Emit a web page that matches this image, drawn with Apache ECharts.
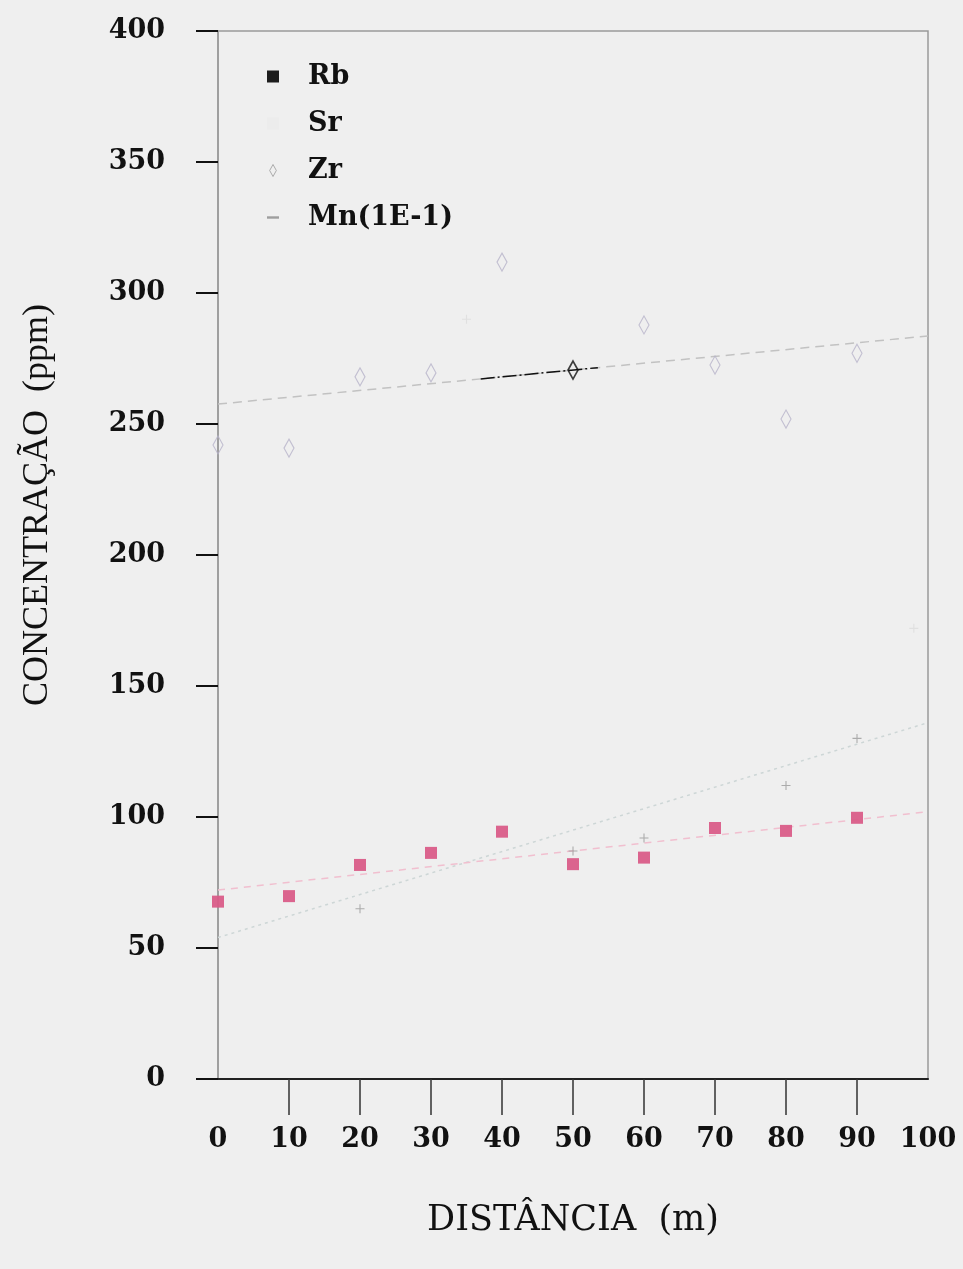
<!DOCTYPE html>
<html>
<head>
<meta charset="utf-8">
<title>Concentração vs distância</title>
<script src="https://cdn.jsdelivr.net/npm/echarts@6/dist/echarts.min.js"></script>
<style>
  html, body { margin: 0; padding: 0; background: #efefef; }
  #chart { width: 963px; height: 1269px; }
</style>
</head>
<body>
<div id="chart"></div>
<script>
// Sampling distances along the profile (m)
const distances = [0, 10, 20, 30, 40, 50, 60, 70, 80, 90];
// Rb and Zr concentrations (ppm) at each distance
const rbValues = [67.7, 69.8, 81.7, 86.3, 94.4, 82.0, 84.5, 95.8, 94.7, 99.7];
const zrValues = [242, 240.8, 268, 269.5, 311.8, 270.6, 287.8, 272.5, 251.9, 277];
// Mn (scaled by 1E-1) and Sr readings, [distance, ppm]
const mnPoints = [[20, 65], [50, 87], [60, 92], [80, 112], [90, 130]];
const srPoints = [[35, 290], [98, 172]];
// Linear trend lines: value at distance 0 and at distance 100
const fitEnds = [0, 100];
const rbFit = [72.1, 102];
const zrFit = [257.6, 283.6];
const mnFit = [54, 136];
// Highlighted part of the Zr trend
const zrHighlight = [37, 53.5];
// Axis ticks
const xTickValues = [10, 20, 30, 40, 50, 60, 70, 80, 90];

const serif = 'DejaVu Serif';

function lineData(ends) {
  return fitEnds.map((x, i) => [x, ends[i]]);
}
function pointOnLine(ends, x) {
  return [x, ends[0] + (ends[1] - ends[0]) * (x - fitEnds[0]) / (fitEnds[1] - fitEnds[0])];
}

const chart = echarts.init(document.getElementById('chart'), null, { renderer: 'canvas' });

const option = {
  backgroundColor: '#efefef',
  animation: false,
  grid: {
    left: 218, right: 35, top: 31, bottom: 190,
    show: true, borderColor: '#9a9a9a', borderWidth: 1.5, backgroundColor: 'transparent'
  },
  legend: {
    orient: 'vertical',
    left: 262, top: 56,
    itemWidth: 12, itemHeight: 12,
    itemGap: 16,
    selectedMode: false,
    textStyle: {
      fontFamily: serif, fontWeight: 'bold', fontSize: 27, color: '#111',
      padding: [0, 0, 0, 24], lineHeight: 31
    },
    data: [
      { name: 'Rb', icon: 'rect', itemStyle: { color: '#111' } },
      { name: 'Sr', icon: 'rect', itemStyle: { color: '#ebebeb' } },
      { name: 'Zr', icon: 'path://M5,0L10,9L5,18L0,9Z',
        itemStyle: { color: 'transparent', borderColor: '#9a9a9a', borderWidth: 1 } },
      { name: 'Mn(1E-1)', icon: 'path://M0,0h7v1.4h-7z', itemStyle: { color: '#8a8a8a' } }
    ]
  },
  xAxis: {
    type: 'value', min: 0, max: 100, interval: 10,
    name: 'DISTÂNCIA  (m)', nameLocation: 'middle', nameGap: 124,
    nameTextStyle: { fontFamily: serif, fontSize: 35, color: '#111', verticalAlign: 'top' },
    axisLine: { show: true, lineStyle: { color: '#222', width: 2 } },
    axisTick: { show: true, inside: false, length: 36, customValues: xTickValues,
      lineStyle: { color: '#333', width: 1.5 } },
    axisLabel: { margin: 47, fontFamily: serif, fontWeight: 'bold', fontSize: 27, color: '#111' },
    splitLine: { show: false }
  },
  yAxis: {
    type: 'value', min: 0, max: 400, interval: 50,
    name: 'CONCENTRAÇÃO  (ppm)', nameLocation: 'middle', nameGap: 162,
    nameTextStyle: { fontFamily: 'Liberation Serif', fontSize: 36, color: '#111',
      padding: [0, 0, 0, 100] },
    axisLine: { show: true, lineStyle: { color: '#9a9a9a', width: 1.5 } },
    axisTick: { show: true, inside: false, length: 22, lineStyle: { color: '#111', width: 2 } },
    axisLabel: { margin: 53, fontFamily: serif, fontWeight: 'bold', fontSize: 27, color: '#111' },
    splitLine: { show: false }
  },
  series: [
    {
      name: 'Mn trend', type: 'line', data: lineData(mnFit), symbol: 'none', z: 1,
      lineStyle: { color: '#cdd6d6', width: 1.5, type: [3, 4] }
    },
    {
      name: 'Rb trend', type: 'line', data: lineData(rbFit), symbol: 'none', z: 1,
      lineStyle: { color: '#f1bfcf', width: 1.5, type: [7, 6] }
    },
    {
      name: 'Zr trend', type: 'line', data: lineData(zrFit), symbol: 'none', z: 1,
      lineStyle: { color: '#c2c2c2', width: 1.5, type: [9, 6] }
    },
    {
      name: 'Zr trend mark', type: 'line', symbol: 'none', z: 2,
      data: zrHighlight.map(x => pointOnLine(zrFit, x)),
      lineStyle: { color: '#111', width: 1.5, type: [14, 3, 2, 3] }
    },
    {
      name: 'Rb', type: 'scatter', symbol: 'rect', symbolSize: 12, z: 3,
      data: distances.map((d, i) => [d, rbValues[i]]),
      itemStyle: { color: '#d95c88', opacity: 0.95 }
    },
    {
      name: 'Sr', type: 'scatter', symbol: 'path://M0,4.4h10v1.2h-10z M4.4,0h1.2v10h-1.2z', symbolSize: 9, z: 3,
      data: srPoints,
      itemStyle: { color: '#dcdcdc' }
    },
    {
      name: 'Zr', type: 'scatter', symbol: 'path://M5,0L10,9L5,18L0,9Z', symbolSize: [10, 18], z: 3,
      data: distances.map((d, i) => {
        const p = { value: [d, zrValues[i]] };
        if (d === 50) p.itemStyle = { color: 'transparent', borderColor: '#111', borderWidth: 1.8 };
        return p;
      }),
      itemStyle: { color: 'transparent', borderColor: '#b7b3c9', borderWidth: 1.2 }
    },
    {
      name: 'Mn(1E-1)', type: 'scatter', symbol: 'path://M0,4.4h10v1.2h-10z M4.4,0h1.2v10h-1.2z', symbolSize: 9, z: 3,
      data: mnPoints,
      itemStyle: { color: '#9a9a9a' }
    }
  ]
};

chart.setOption(option);
</script>
</body>
</html>
